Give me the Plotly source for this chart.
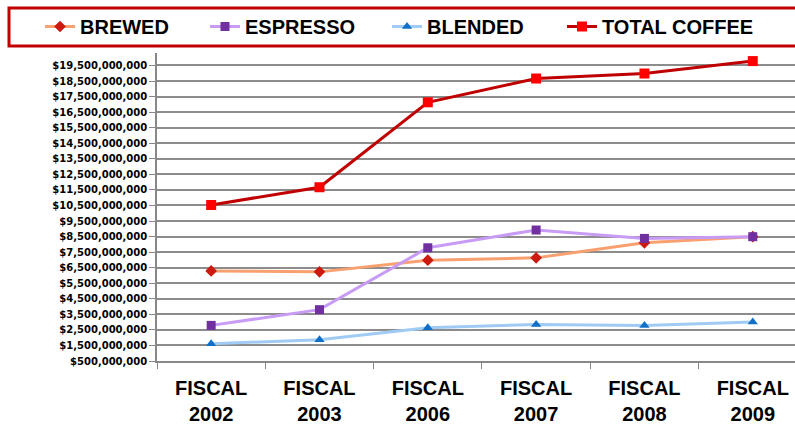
import plotly.graph_objects as go

categories = ["FISCAL<br>2002", "FISCAL<br>2003", "FISCAL<br>2006", "FISCAL<br>2007", "FISCAL<br>2008", "FISCAL<br>2009"]
brewed = [6.29e9, 6.23e9, 6.98e9, 7.13e9, 8.10e9, 8.49e9]
espresso = [2.79e9, 3.80e9, 7.78e9, 8.92e9, 8.38e9, 8.49e9]
blended = [1.61e9, 1.87e9, 2.64e9, 2.85e9, 2.79e9, 3.00e9]
total_coffee = [10.53e9, 11.67e9, 17.13e9, 18.66e9, 18.98e9, 19.78e9]
ytick_vals = [0.5e9 + i * 1e9 for i in range(20)]
ytick_text = ["${:,.0f}".format(v) for v in ytick_vals]

series = [
    ("BREWED", brewed, "#F9A070", "#CC1A10", "diamond", 9, "legend", 40),
    ("ESPRESSO", espresso, "#C89BF5", "#7030A0", "square", 9, "legend2", 205),
    ("BLENDED", blended, "#9FCBF5", "#1070C8", "triangle-up", 9, "legend3", 387),
    ("TOTAL COFFEE", total_coffee, "#C00000", "#FF0000", "square", 10, "legend4", 562),
]

fig = go.Figure()
legend_layout = {}
for name, vals, lc, mc, sym, ms, leg, lx in series:
    fig.add_trace(go.Scatter(
        x=categories, y=vals, name=name, mode="lines+markers",
        line=dict(color=lc, width=3),
        marker=dict(color=mc, symbol=sym, size=ms, line=dict(color=mc, width=0)),
        legend=leg,
    ))
    legend_layout[leg] = dict(
        orientation="h", xref="container", x=lx / 795, xanchor="left",
        yref="container", y=1 - 7 / 425, yanchor="top",
        font=dict(size=20, family="Liberation Sans, Arial, sans-serif", weight="bold"),
        itemwidth=30, bgcolor="rgba(0,0,0,0)", borderwidth=0,
    )

fig.update_layout(
    width=795, height=425,
    margin=dict(l=157, r=0, t=53, b=64, autoexpand=False),
    paper_bgcolor="white", plot_bgcolor="white",
    font=dict(family="Liberation Sans, Arial, sans-serif", color="black"),
    showlegend=True,
    **legend_layout,
    shapes=[dict(type="rect", xref="paper", yref="paper", x0=(9 - 157) / 638, x1=1.01,
                 y0=(425 - 64 - 46) / 308, y1=(425 - 64 - 8) / 308,
                 line=dict(color="#C00000", width=3), fillcolor="rgba(0,0,0,0)")],
    xaxis=dict(
        range=[-0.5, 5.39], showgrid=False, showline=True, linecolor="#888888", linewidth=1.5,
        ticks="outside", tickson="boundaries", ticklen=6, tickcolor="#888888",
        tickfont=dict(size=20, weight="bold"), ticklabelstandoff=8,
    ),
    yaxis=dict(
        range=[0.5e9, 20.3e9], tickvals=ytick_vals, ticktext=ytick_text,
        showgrid=True, gridcolor="#8C8C8C", gridwidth=1.5,
        showline=True, linecolor="#888888", linewidth=1.5,
        ticks="outside", ticklen=6, tickcolor="#888888",
        tickfont=dict(size=10, weight="bold", family="DejaVu Sans, sans-serif"), zeroline=False,
    ),
)
fig.write_html("out.html")
